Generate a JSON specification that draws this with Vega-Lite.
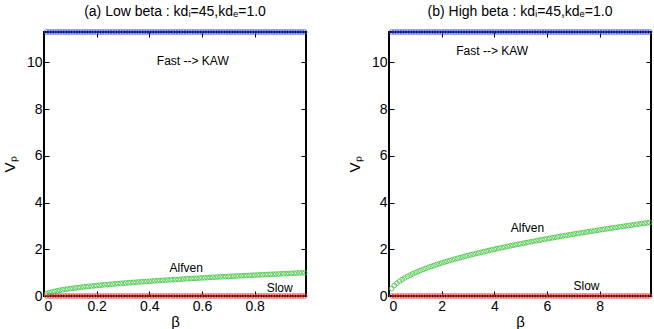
{
 "$schema": "https://vega.github.io/schema/vega-lite/v6.json",
 "background": "white",
 "padding": {"left": 1, "top": 3, "right": 5, "bottom": 3},
 "spacing": 35,
 "config": {
  "font": "Liberation Sans",
  "view": {"stroke": "#000", "strokeWidth": 2},
  "axis": {"domain": false, "grid": false, "tickColor": "#000", "tickSize": -5, "tickWidth": 1, "labelFont": "Liberation Sans", "labelFontSize": 14, "labelColor": "#000", "titleFont": "Liberation Sans", "titleFontSize": 15, "titleColor": "#000", "titleFontWeight": "normal"},
  "title": {"font": "Liberation Sans", "fontSize": 14, "fontWeight": "normal", "color": "#000", "offset": 9}
 },
 "datasets": {
  "low": [
   {"b":0.01,"F":11.3,"A":0.1,"S":0},{"b":0.02,"F":11.3,"A":0.141,"S":0},{"b":0.03,"F":11.3,"A":0.173,"S":0},{"b":0.04,"F":11.3,"A":0.2,"S":0},{"b":0.05,"F":11.3,"A":0.224,"S":0},{"b":0.06,"F":11.3,"A":0.245,"S":0},{"b":0.07,"F":11.3,"A":0.265,"S":0},{"b":0.08,"F":11.3,"A":0.283,"S":0},{"b":0.09,"F":11.3,"A":0.3,"S":0},{"b":0.1,"F":11.3,"A":0.316,"S":0},
   {"b":0.11,"F":11.3,"A":0.332,"S":0},{"b":0.12,"F":11.3,"A":0.346,"S":0},{"b":0.13,"F":11.3,"A":0.361,"S":0},{"b":0.14,"F":11.3,"A":0.374,"S":0},{"b":0.15,"F":11.3,"A":0.387,"S":0},{"b":0.16,"F":11.3,"A":0.4,"S":0},{"b":0.17,"F":11.3,"A":0.412,"S":0},{"b":0.18,"F":11.3,"A":0.424,"S":0},{"b":0.19,"F":11.3,"A":0.436,"S":0},{"b":0.2,"F":11.3,"A":0.447,"S":0},
   {"b":0.21,"F":11.3,"A":0.458,"S":0},{"b":0.22,"F":11.3,"A":0.469,"S":0},{"b":0.23,"F":11.3,"A":0.48,"S":0},{"b":0.24,"F":11.3,"A":0.49,"S":0},{"b":0.25,"F":11.3,"A":0.5,"S":0},{"b":0.26,"F":11.3,"A":0.51,"S":0},{"b":0.27,"F":11.3,"A":0.52,"S":0},{"b":0.28,"F":11.3,"A":0.529,"S":0},{"b":0.29,"F":11.3,"A":0.539,"S":0},{"b":0.3,"F":11.3,"A":0.548,"S":0},
   {"b":0.31,"F":11.3,"A":0.557,"S":0},{"b":0.32,"F":11.3,"A":0.566,"S":0},{"b":0.33,"F":11.3,"A":0.574,"S":0},{"b":0.34,"F":11.3,"A":0.583,"S":0},{"b":0.35,"F":11.3,"A":0.592,"S":0},{"b":0.36,"F":11.3,"A":0.6,"S":0},{"b":0.37,"F":11.3,"A":0.608,"S":0},{"b":0.38,"F":11.3,"A":0.616,"S":0},{"b":0.39,"F":11.3,"A":0.624,"S":0},{"b":0.4,"F":11.3,"A":0.632,"S":0},
   {"b":0.41,"F":11.3,"A":0.64,"S":0},{"b":0.42,"F":11.3,"A":0.648,"S":0},{"b":0.43,"F":11.3,"A":0.656,"S":0},{"b":0.44,"F":11.3,"A":0.663,"S":0},{"b":0.45,"F":11.3,"A":0.671,"S":0},{"b":0.46,"F":11.3,"A":0.678,"S":0},{"b":0.47,"F":11.3,"A":0.686,"S":0},{"b":0.48,"F":11.3,"A":0.693,"S":0},{"b":0.49,"F":11.3,"A":0.7,"S":0},{"b":0.5,"F":11.3,"A":0.707,"S":0},
   {"b":0.51,"F":11.3,"A":0.714,"S":0},{"b":0.52,"F":11.3,"A":0.721,"S":0},{"b":0.53,"F":11.3,"A":0.728,"S":0},{"b":0.54,"F":11.3,"A":0.735,"S":0},{"b":0.55,"F":11.3,"A":0.742,"S":0},{"b":0.56,"F":11.3,"A":0.748,"S":0},{"b":0.57,"F":11.3,"A":0.755,"S":0},{"b":0.58,"F":11.3,"A":0.762,"S":0},{"b":0.59,"F":11.3,"A":0.768,"S":0},{"b":0.6,"F":11.3,"A":0.775,"S":0},
   {"b":0.61,"F":11.3,"A":0.781,"S":0},{"b":0.62,"F":11.3,"A":0.787,"S":0},{"b":0.63,"F":11.3,"A":0.794,"S":0},{"b":0.64,"F":11.3,"A":0.8,"S":0},{"b":0.65,"F":11.3,"A":0.806,"S":0},{"b":0.66,"F":11.3,"A":0.812,"S":0},{"b":0.67,"F":11.3,"A":0.819,"S":0},{"b":0.68,"F":11.3,"A":0.825,"S":0},{"b":0.69,"F":11.3,"A":0.831,"S":0},{"b":0.7,"F":11.3,"A":0.837,"S":0},
   {"b":0.71,"F":11.3,"A":0.843,"S":0},{"b":0.72,"F":11.3,"A":0.849,"S":0},{"b":0.73,"F":11.3,"A":0.854,"S":0},{"b":0.74,"F":11.3,"A":0.86,"S":0},{"b":0.75,"F":11.3,"A":0.866,"S":0},{"b":0.76,"F":11.3,"A":0.872,"S":0},{"b":0.77,"F":11.3,"A":0.877,"S":0},{"b":0.78,"F":11.3,"A":0.883,"S":0},{"b":0.79,"F":11.3,"A":0.889,"S":0},{"b":0.8,"F":11.3,"A":0.894,"S":0},
   {"b":0.81,"F":11.3,"A":0.9,"S":0},{"b":0.82,"F":11.3,"A":0.906,"S":0},{"b":0.83,"F":11.3,"A":0.911,"S":0},{"b":0.84,"F":11.3,"A":0.917,"S":0},{"b":0.85,"F":11.3,"A":0.922,"S":0},{"b":0.86,"F":11.3,"A":0.927,"S":0},{"b":0.87,"F":11.3,"A":0.933,"S":0},{"b":0.88,"F":11.3,"A":0.938,"S":0},{"b":0.89,"F":11.3,"A":0.943,"S":0},{"b":0.9,"F":11.3,"A":0.949,"S":0},
   {"b":0.91,"F":11.3,"A":0.954,"S":0},{"b":0.92,"F":11.3,"A":0.959,"S":0},{"b":0.93,"F":11.3,"A":0.964,"S":0},{"b":0.94,"F":11.3,"A":0.97,"S":0},{"b":0.95,"F":11.3,"A":0.975,"S":0},{"b":0.96,"F":11.3,"A":0.98,"S":0},{"b":0.97,"F":11.3,"A":0.985,"S":0},{"b":0.98,"F":11.3,"A":0.99,"S":0},{"b":0.99,"F":11.3,"A":0.995,"S":0}
  ],
  "high": [
   {"b":0.1,"F":11.3,"A":0.316,"S":0},{"b":0.2,"F":11.3,"A":0.447,"S":0},{"b":0.3,"F":11.3,"A":0.548,"S":0},{"b":0.4,"F":11.3,"A":0.632,"S":0},{"b":0.5,"F":11.3,"A":0.707,"S":0},{"b":0.6,"F":11.3,"A":0.775,"S":0},{"b":0.7,"F":11.3,"A":0.837,"S":0},{"b":0.8,"F":11.3,"A":0.894,"S":0},{"b":0.9,"F":11.3,"A":0.949,"S":0},{"b":1.0,"F":11.3,"A":1.0,"S":0},
   {"b":1.1,"F":11.3,"A":1.049,"S":0},{"b":1.2,"F":11.3,"A":1.095,"S":0},{"b":1.3,"F":11.3,"A":1.14,"S":0},{"b":1.4,"F":11.3,"A":1.183,"S":0},{"b":1.5,"F":11.3,"A":1.225,"S":0},{"b":1.6,"F":11.3,"A":1.265,"S":0},{"b":1.7,"F":11.3,"A":1.304,"S":0},{"b":1.8,"F":11.3,"A":1.342,"S":0},{"b":1.9,"F":11.3,"A":1.378,"S":0},{"b":2.0,"F":11.3,"A":1.414,"S":0},
   {"b":2.1,"F":11.3,"A":1.449,"S":0},{"b":2.2,"F":11.3,"A":1.483,"S":0},{"b":2.3,"F":11.3,"A":1.517,"S":0},{"b":2.4,"F":11.3,"A":1.549,"S":0},{"b":2.5,"F":11.3,"A":1.581,"S":0},{"b":2.6,"F":11.3,"A":1.612,"S":0},{"b":2.7,"F":11.3,"A":1.643,"S":0},{"b":2.8,"F":11.3,"A":1.673,"S":0},{"b":2.9,"F":11.3,"A":1.703,"S":0},{"b":3.0,"F":11.3,"A":1.732,"S":0},
   {"b":3.1,"F":11.3,"A":1.761,"S":0},{"b":3.2,"F":11.3,"A":1.789,"S":0},{"b":3.3,"F":11.3,"A":1.817,"S":0},{"b":3.4,"F":11.3,"A":1.844,"S":0},{"b":3.5,"F":11.3,"A":1.871,"S":0},{"b":3.6,"F":11.3,"A":1.897,"S":0},{"b":3.7,"F":11.3,"A":1.924,"S":0},{"b":3.8,"F":11.3,"A":1.949,"S":0},{"b":3.9,"F":11.3,"A":1.975,"S":0},{"b":4.0,"F":11.3,"A":2.0,"S":0},
   {"b":4.1,"F":11.3,"A":2.025,"S":0},{"b":4.2,"F":11.3,"A":2.049,"S":0},{"b":4.3,"F":11.3,"A":2.074,"S":0},{"b":4.4,"F":11.3,"A":2.098,"S":0},{"b":4.5,"F":11.3,"A":2.121,"S":0},{"b":4.6,"F":11.3,"A":2.145,"S":0},{"b":4.7,"F":11.3,"A":2.168,"S":0},{"b":4.8,"F":11.3,"A":2.191,"S":0},{"b":4.9,"F":11.3,"A":2.214,"S":0},{"b":5.0,"F":11.3,"A":2.236,"S":0},
   {"b":5.1,"F":11.3,"A":2.258,"S":0},{"b":5.2,"F":11.3,"A":2.28,"S":0},{"b":5.3,"F":11.3,"A":2.302,"S":0},{"b":5.4,"F":11.3,"A":2.324,"S":0},{"b":5.5,"F":11.3,"A":2.345,"S":0},{"b":5.6,"F":11.3,"A":2.366,"S":0},{"b":5.7,"F":11.3,"A":2.387,"S":0},{"b":5.8,"F":11.3,"A":2.408,"S":0},{"b":5.9,"F":11.3,"A":2.429,"S":0},{"b":6.0,"F":11.3,"A":2.449,"S":0},
   {"b":6.1,"F":11.3,"A":2.47,"S":0},{"b":6.2,"F":11.3,"A":2.49,"S":0},{"b":6.3,"F":11.3,"A":2.51,"S":0},{"b":6.4,"F":11.3,"A":2.53,"S":0},{"b":6.5,"F":11.3,"A":2.55,"S":0},{"b":6.6,"F":11.3,"A":2.569,"S":0},{"b":6.7,"F":11.3,"A":2.588,"S":0},{"b":6.8,"F":11.3,"A":2.608,"S":0},{"b":6.9,"F":11.3,"A":2.627,"S":0},{"b":7.0,"F":11.3,"A":2.646,"S":0},
   {"b":7.1,"F":11.3,"A":2.665,"S":0},{"b":7.2,"F":11.3,"A":2.683,"S":0},{"b":7.3,"F":11.3,"A":2.702,"S":0},{"b":7.4,"F":11.3,"A":2.72,"S":0},{"b":7.5,"F":11.3,"A":2.739,"S":0},{"b":7.6,"F":11.3,"A":2.757,"S":0},{"b":7.7,"F":11.3,"A":2.775,"S":0},{"b":7.8,"F":11.3,"A":2.793,"S":0},{"b":7.9,"F":11.3,"A":2.811,"S":0},{"b":8.0,"F":11.3,"A":2.828,"S":0},
   {"b":8.1,"F":11.3,"A":2.846,"S":0},{"b":8.2,"F":11.3,"A":2.864,"S":0},{"b":8.3,"F":11.3,"A":2.881,"S":0},{"b":8.4,"F":11.3,"A":2.898,"S":0},{"b":8.5,"F":11.3,"A":2.915,"S":0},{"b":8.6,"F":11.3,"A":2.933,"S":0},{"b":8.7,"F":11.3,"A":2.95,"S":0},{"b":8.8,"F":11.3,"A":2.966,"S":0},{"b":8.9,"F":11.3,"A":2.983,"S":0},{"b":9.0,"F":11.3,"A":3.0,"S":0},
   {"b":9.1,"F":11.3,"A":3.017,"S":0},{"b":9.2,"F":11.3,"A":3.033,"S":0},{"b":9.3,"F":11.3,"A":3.05,"S":0},{"b":9.4,"F":11.3,"A":3.066,"S":0},{"b":9.5,"F":11.3,"A":3.082,"S":0},{"b":9.6,"F":11.3,"A":3.098,"S":0},{"b":9.7,"F":11.3,"A":3.114,"S":0},{"b":9.8,"F":11.3,"A":3.13,"S":0},{"b":9.9,"F":11.3,"A":3.146,"S":0}
  ],
  "lowText": [
   {"b":0.565,"v":10.05,"t":"Fast --> KAW"},{"b":0.54,"v":1.2,"t":"Alfven"},{"b":0.895,"v":0.35,"t":"Slow"}
  ],
  "highText": [
   {"b":3.92,"v":10.5,"t":"Fast --> KAW"},{"b":5.26,"v":2.9,"t":"Alfven"},{"b":7.5,"v":0.43,"t":"Slow"}
  ]
 },
 "hconcat": [
  {
   "width": 262, "height": 264,
   "title": "(a) Low beta : kdᵢ=45,kdₑ=1.0",
   "layer": [
    {
     "data": {"name": "low"},
     "transform": [{"fold": ["F", "A", "S"], "as": ["k", "v"]}],
     "mark": {"type": "point", "shape": "circle", "filled": false, "size": 22, "strokeWidth": 1, "opacity": 0.8},
     "encoding": {
      "x": {"field": "b", "type": "quantitative", "scale": {"domain": [0, 0.995], "nice": false, "zero": false}, "axis": {"orient": "bottom", "values": [0, 0.2, 0.4, 0.6, 0.8], "format": ".1~f", "title": "β", "titlePadding": 1, "labelPadding": 8}},
      "y": {"field": "v", "type": "quantitative", "scale": {"domain": [0, 11.3], "nice": false}, "axis": {"orient": "left", "values": [0, 2, 4, 6, 8, 10], "title": "Vₚ", "titlePadding": 9, "labelPadding": 7}},
      "color": {"field": "k", "type": "nominal", "scale": {"domain": ["F", "A", "S"], "range": ["#3a4ff0", "#3cc43c", "#f03a3a"]}, "legend": null}
     }
    },
    {
     "data": {"name": "lowText"},
     "mark": {"type": "text", "fontSize": 12, "font": "Liberation Sans", "color": "#000"},
     "encoding": {
      "x": {"field": "b", "type": "quantitative", "axis": {"orient": "top", "values": [0, 0.2, 0.4, 0.6, 0.8], "labels": false, "title": null}},
      "y": {"field": "v", "type": "quantitative", "axis": {"orient": "right", "values": [0, 2, 4, 6, 8, 10], "labels": false, "title": null}},
      "text": {"field": "t"}
     }
    }
   ],
   "resolve": {"axis": {"x": "independent", "y": "independent"}}
  },
  {
   "width": 262, "height": 264,
   "title": "(b) High beta : kdᵢ=45,kdₑ=1.0",
   "layer": [
    {
     "data": {"name": "high"},
     "transform": [{"fold": ["F", "A", "S"], "as": ["k", "v"]}],
     "mark": {"type": "point", "shape": "circle", "filled": false, "size": 22, "strokeWidth": 1, "opacity": 0.8},
     "encoding": {
      "x": {"field": "b", "type": "quantitative", "scale": {"domain": [0, 9.95], "nice": false, "zero": false}, "axis": {"orient": "bottom", "values": [0, 2, 4, 6, 8], "title": "β", "titlePadding": 1, "labelPadding": 8}},
      "y": {"field": "v", "type": "quantitative", "scale": {"domain": [0, 11.3], "nice": false}, "axis": {"orient": "left", "values": [0, 2, 4, 6, 8, 10], "title": "Vₚ", "titlePadding": 9, "labelPadding": 7}},
      "color": {"field": "k", "type": "nominal", "scale": {"domain": ["F", "A", "S"], "range": ["#3a4ff0", "#3cc43c", "#f03a3a"]}, "legend": null}
     }
    },
    {
     "data": {"name": "highText"},
     "mark": {"type": "text", "fontSize": 12, "font": "Liberation Sans", "color": "#000"},
     "encoding": {
      "x": {"field": "b", "type": "quantitative", "axis": {"orient": "top", "values": [0, 2, 4, 6, 8], "labels": false, "title": null}},
      "y": {"field": "v", "type": "quantitative", "axis": {"orient": "right", "values": [0, 2, 4, 6, 8, 10], "labels": false, "title": null}},
      "text": {"field": "t"}
     }
    }
   ],
   "resolve": {"axis": {"x": "independent", "y": "independent"}}
  }
 ]
}
